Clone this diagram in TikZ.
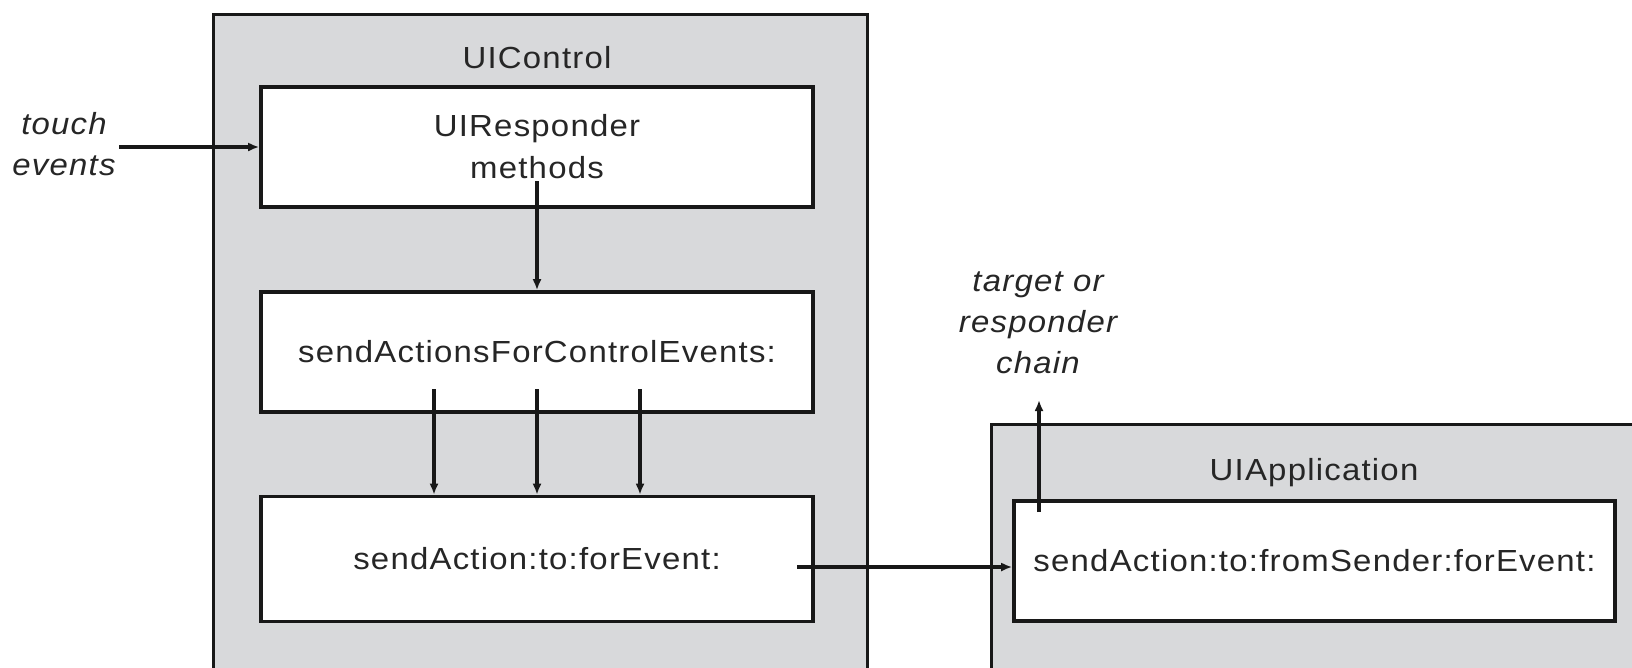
\documentclass[tikz,border=0pt]{standalone}
\usepackage{fontspec}
\setmainfont{Liberation Sans}[FakeStretch=1.08,LetterSpace=4]
\usetikzlibrary{arrows.meta}
\definecolor{panelgrey}{RGB}{216,217,219}
\definecolor{ink}{RGB}{24,24,24}
\definecolor{textink}{RGB}{38,38,38}
\begin{document}
\begin{tikzpicture}[x=1pt,y=-1pt,
  classbox/.style={draw=ink,line width=3.4pt,fill=panelgrey,inner sep=0pt,anchor=north west},
  methodbox/.style={draw=ink,line width=3.6pt,fill=white,inner sep=0pt,align=center,
    text=textink,font=\fontsize{30.5}{42}\selectfont},
  lbl/.style={inner sep=0pt,align=center,text=textink,font=\fontsize{30.5}{42}\selectfont},
  note/.style={lbl,font=\fontsize{30.5}{41}\selectfont\itshape},
  flow/.style={draw=ink,line width=3.2pt,-{Latex[length=11pt,width=9pt]}},
]
\clip (0,0) rectangle (1632,667);
\fill[white] (0,0) rectangle (1632,667);

% class panels (they run past the lower and right edges)
\node[classbox,minimum width=654pt,minimum height=700pt] (ctl) at (212,13) {};
\node[classbox,minimum width=700pt,minimum height=300pt] (app) at (990,423) {};

\node[lbl,anchor=base] (ctlname) at (537,68) {UIControl};
\node[lbl,anchor=base] (appname) at (1314,480) {UIApplication};

% method boxes
\node[methodbox,minimum width=552pt,minimum height=120pt] (resp) at (537,147)
  {UIResponder\\methods};
\node[methodbox,minimum width=552pt,minimum height=120pt] (forall) at (537,352)
  {sendActionsForControlEvents:};
\node[methodbox,minimum width=552pt,minimum height=125pt] (single) at (537,559)
  {sendAction:to:forEvent:};
\node[methodbox,minimum width=601pt,minimum height=120pt] (dispatch) at (1314.5,561)
  {sendAction:to:fromSender:forEvent:};

% free labels
\node[note] (touch) at (64,144) {touch\\events};
\node[note] (chain) at (1038,323) {target or\\responder\\chain};

% connector ends
\coordinate (touchout) at (119,147);
\coordinate (respout) at (537,181);
\coordinate (fanA) at (434,389);
\coordinate (fanB) at (537,389);
\coordinate (fanC) at (640,389);
\coordinate (singleout) at (797,567);
\coordinate (dispatchout) at (1039,512);
\coordinate (chainin) at (1039,400);

\draw[flow] (touchout) -- (resp.west);
\draw[flow] (respout) -- (forall.north);
\draw[flow] (fanA) -- (fanA |- single.north);
\draw[flow] (fanB) -- (fanB |- single.north);
\draw[flow] (fanC) -- (fanC |- single.north);
\draw[flow] (singleout) -- (singleout -| dispatch.west);
\draw[flow] (dispatchout) -- (chainin);
\end{tikzpicture}
\end{document}
